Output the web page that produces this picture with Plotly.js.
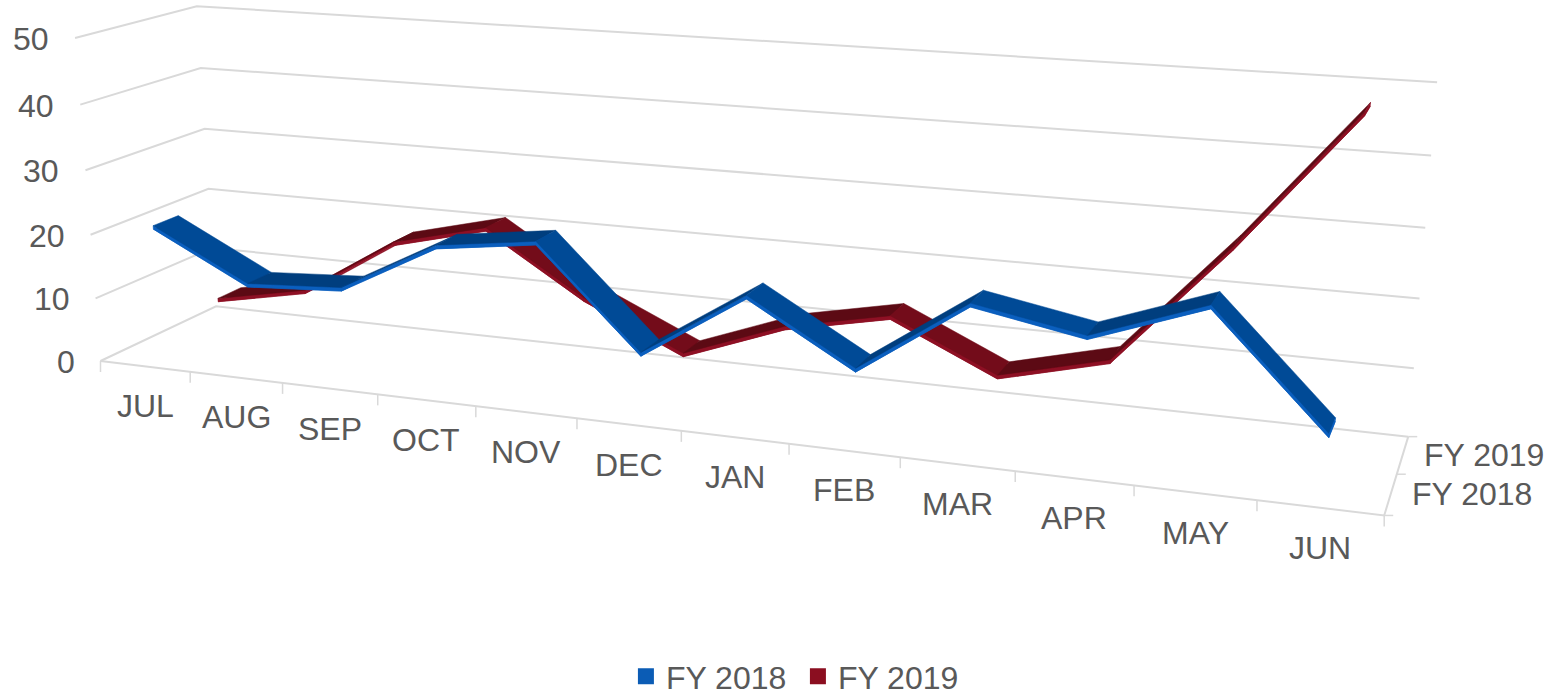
<!DOCTYPE html>
<html><head><meta charset="utf-8">
<script src="https://cdn.plot.ly/plotly-3.0.1.min.js"></script>
<style>html,body{margin:0;padding:0;background:#fff;overflow:hidden}#c{width:1557px;height:690px}</style>
</head><body><div id="c"></div>
<script>
const months = ["JUL","AUG","SEP","OCT","NOV","DEC","JAN","FEB","MAR","APR","MAY","JUN"];
const fy2018 = [21, 13.4, 14.3, 22.2, 24.2, 9.3, 19.3, 10.4, 21.3, 18.4, 24.2, 8.5];
const fy2019 = [5.2, 8.1, 17.3, 21, 11.5, 4.5, 10.3, 13.5, 6.3, 10.3, 28, 47.6];
const seriesNames = ["FY 2018", "FY 2019"];
const valueTicks = [0, 10, 20, 30, 40, 50];

// Camera calibration: [month position, depth, value, screen x, screen y]
const calib = [
 [0,0,0,100,360],[1,0,0,190,371],[2,0,0,283,384],[3,0,0,378,395],[4,0,0,476,407],
 [10,0,0,1133,485],[11,0,0,1257,500],[12,0,0,1385,515],
 [0,1,0,217,306],[12,1,0,1407,437],
 [0,1,50,197,6],[0,1,40,201,68],[0,1,30,204,129],[0,1,20,208,189],[0,1,10,212,248],
 [0,0,50,75,38],[0,0,40,80,105],[0,0,30,86,170],[0,0,20,91,235],[0,0,10,95,298],
 [12,1,50,1437,83],[12,1,40,1431,155],[12,1,30,1425,227],[12,1,20,1420,298],[12,1,10,1415,369]
];
function solve(A,b){const n=b.length;const M=A.map((r,i)=>r.concat(b[i]));
 for(let i=0;i<n;i++){let p=i;for(let k=i+1;k<n;k++)if(Math.abs(M[k][i])>Math.abs(M[p][i]))p=k;
  [M[i],M[p]]=[M[p],M[i]];
  for(let k=0;k<n;k++){if(k===i)continue;const f=M[k][i]/M[i][i];for(let j=i;j<=n;j++)M[k][j]-=f*M[i][j];}}
 return M.map((r,i)=>r[n]/r[i]);}
function fit(){const rows=[],rhs=[];
 const sx=1/12,sz=1/50;
 calib.forEach(([m,d,v,u,w])=>{const X=m*sx,Z=v*sz;
  rows.push([X,d,Z,1,0,0,0,0,-u*X,-u*d,-u*Z]);rhs.push(u);
  rows.push([0,0,0,0,X,d,Z,1,-w*X,-w*d,-w*Z]);rhs.push(w);});
 const sc=[1000,1000,1000,1000,1000,1000,1000,1000,1,1,1];
 const R=rows.map(r=>r.map((a,i)=>a/sc[i]));
 const N=11,A=Array.from({length:N},()=>Array(N).fill(0)),b=Array(N).fill(0);
 R.forEach((r,k)=>{for(let i=0;i<N;i++){b[i]+=r[i]*rhs[k];for(let j=0;j<N;j++)A[i][j]+=r[i]*r[j];}});
 const s=solve(A,b);return s.map((a,i)=>a/sc[i]);}
const P=fit();
function proj(m,d,v){const X=m/12,Z=v/50,w=P[8]*X+P[9]*d+P[10]*Z+1;
 return [(P[0]*X+P[1]*d+P[2]*Z+P[3])/w,(P[4]*X+P[5]*d+P[6]*Z+P[7])/w];}

const traces=[];
function line(pts,color,width){traces.push({type:"scatter",mode:"lines",x:pts.map(p=>p[0]),y:pts.map(p=>p[1]),
 line:{color:color||"#D9D9D9",width:width||2},hoverinfo:"skip",showlegend:false});}
function poly(pts,color){const c=pts.concat([pts[0]]);traces.push({type:"scatter",mode:"lines",fill:"toself",fillcolor:color,
 x:c.map(p=>p[0]),y:c.map(p=>p[1]),line:{color:color,width:0.5},hoverinfo:"skip",showlegend:false});}

// walls and floor
valueTicks.forEach(v=>line([proj(0,0,v),proj(0,1,v),proj(12,1,v)]));
line([proj(0,0,0),proj(12,0,0),proj(12,1,0)]);
for(let i=0;i<=12;i++){const p=proj(i,0,0);line([p,[p[0],p[1]+11]],"#D9D9D9",1.5);}
[0,.5,1].forEach(d=>{const p=proj(12,d,0);line([p,[p[0]+9,p[1]]],"#D9D9D9",1.5);});

const HALF=0.105,THICK=0.55;
function ribbon(vals,dc,st){
 const d0=dc-HALF,d1=dc+HALF;
 for(let i=0;i<vals.length-1;i++){
  const a=i+.5,b=i+1.5,va=vals[i],vb=vals[i+1];
  poly([proj(a,d0,va-THICK),proj(a,d1,va-THICK),proj(b,d1,vb-THICK),proj(b,d0,vb-THICK)],st.edge);
 }
 for(let i=0;i<vals.length-1;i++){
  const a=i+.5,b=i+1.5,va=vals[i],vb=vals[i+1];
  poly([proj(a,d0,va),proj(a,d0,va-THICK),proj(b,d0,vb-THICK),proj(b,d0,vb)],st.edge);
  poly([proj(a,d0,va),proj(a,d1,va),proj(b,d1,vb),proj(b,d0,vb)],vb>va?st.up:st.down);
 }
 const n=vals.length-1;
 poly([proj(n+.5,d0,vals[n]),proj(n+.5,d1,vals[n]),proj(n+.5,d1,vals[n]-THICK),proj(n+.5,d0,vals[n]-THICK)],st.edge);
}
ribbon(fy2019,.75,{down:"#730C1A",up:"#5C0A14",edge:"#8E1024"});
ribbon(fy2018,.25,{down:"#004A96",up:"#003E7E",edge:"#0B5FBE"});

// legend entries
traces.push({type:"scatter",mode:"markers",x:[null],y:[null],name:seriesNames[0],marker:{symbol:"square",size:16,color:"#0B5CB5"}});
traces.push({type:"scatter",mode:"markers",x:[null],y:[null],name:seriesNames[1],marker:{symbol:"square",size:16,color:"#8B0E20"}});

const anns=[];
const font={family:"Liberation Sans, Arial, sans-serif",size:32,color:"#595959"};
function label(text,p,xa){anns.push({text:text,x:p[0],y:p[1],xref:"x",yref:"y",showarrow:false,xanchor:xa,yanchor:"middle",font:font});}
months.forEach((m,i)=>{const p=proj(i+.5,0,0);label(m,[p[0],p[1]+40],"center");});
valueTicks.forEach(v=>{const p=proj(0,0,v);label(String(v),[p[0]-24,p[1]+1],"right");});
[.25,.75].forEach((d,i)=>{const p=proj(12,d,0);label(seriesNames[i],[p[0]+19,p[1]],"left");});

Plotly.newPlot("c",traces,{
 width:1557,height:690,margin:{l:0,r:0,t:0,b:0,autoexpand:false},paper_bgcolor:"#fff",plot_bgcolor:"#fff",
 xaxis:{range:[0,1557],visible:false,fixedrange:true},
 yaxis:{range:[690,0],visible:false,fixedrange:true},
 annotations:anns,
 legend:{orientation:"h",x:0.402,y:0.0595,yanchor:"top",xanchor:"left",font:font,bgcolor:"rgba(0,0,0,0)",entrywidth:127,entrywidthmode:"pixels"},
 font:font
},{staticPlot:true});
</script></body></html>
